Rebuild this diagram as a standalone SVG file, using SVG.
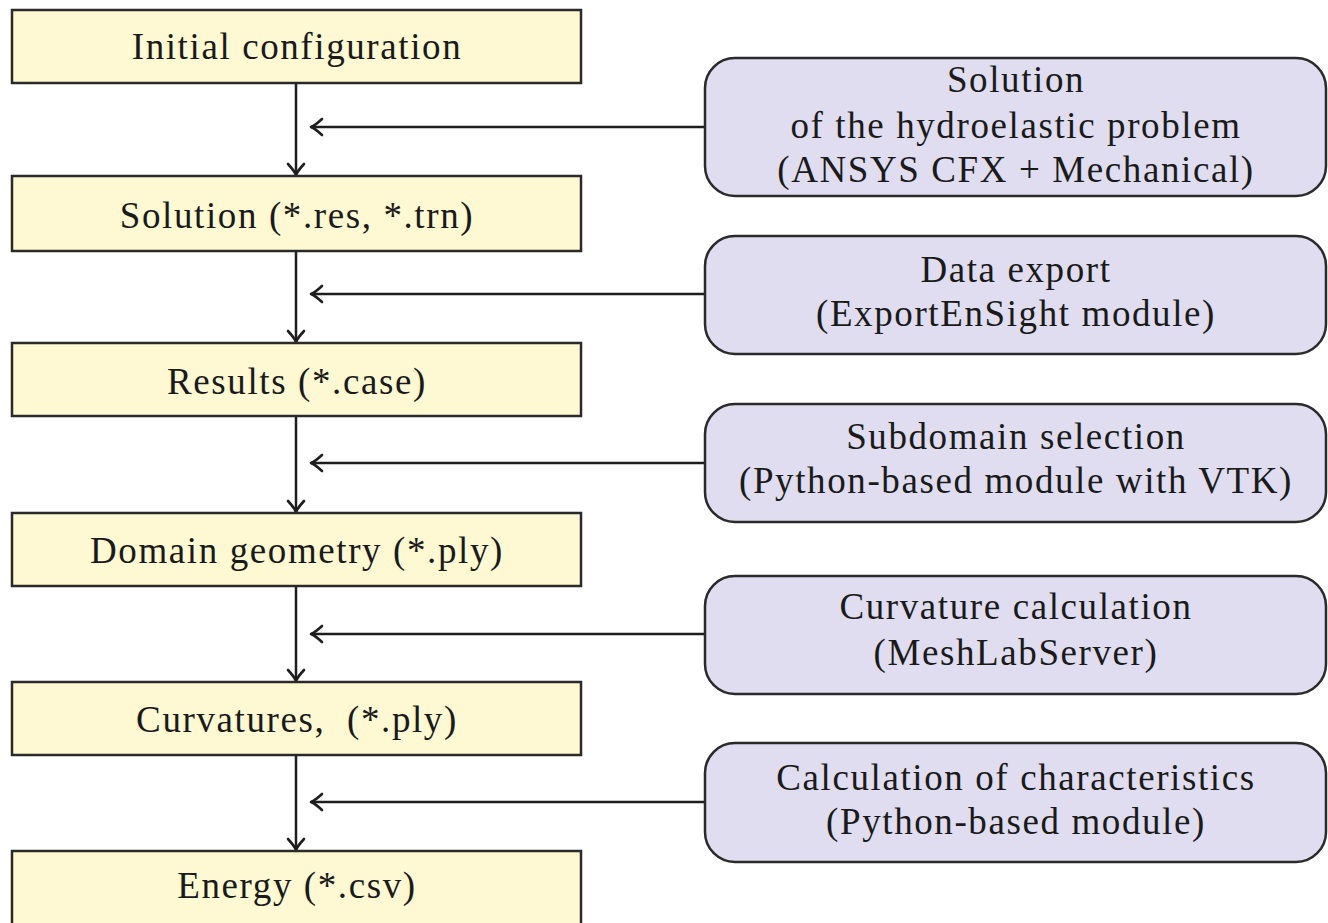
<svg xmlns="http://www.w3.org/2000/svg" width="1328" height="923" viewBox="0 0 1328 923">
<style>
  .step { fill: #fef9d2; stroke: #2a2a2a; stroke-width: 2.5; }
  .tool { fill: #dfddef; stroke: #2a2a2a; stroke-width: 2.5; }
  text { font-family: "Liberation Serif", "Times New Roman", serif; font-size: 37px; fill: #1a1a1a; text-anchor: middle; letter-spacing: 1.6px; white-space: pre; }
  .conn { stroke: #1e1e1e; stroke-width: 2.5; fill: none; }
</style>
<defs>
  <marker id="arr" viewBox="-14 -10 16 20" refX="0" refY="0" markerWidth="16" markerHeight="20" markerUnits="userSpaceOnUse" orient="auto" overflow="visible">
    <path d="M -11 -8 Q -4 -1.5 0 0 Q -4 1.5 -11 8" fill="none" stroke="#1e1e1e" stroke-width="2.6" stroke-linecap="round" stroke-linejoin="round"/>
  </marker>
</defs>
<rect width="1328" height="923" fill="#ffffff"/>

<g id="connectors">
  <line class="conn" x1="296" y1="83" x2="296" y2="175" marker-end="url(#arr)"/>
  <line class="conn" x1="296" y1="251" x2="296" y2="342" marker-end="url(#arr)"/>
  <line class="conn" x1="296" y1="416" x2="296" y2="512" marker-end="url(#arr)"/>
  <line class="conn" x1="296" y1="586" x2="296" y2="681" marker-end="url(#arr)"/>
  <line class="conn" x1="296" y1="755" x2="296" y2="850" marker-end="url(#arr)"/>
  <line class="conn" x1="705" y1="127" x2="311" y2="127" marker-end="url(#arr)"/>
  <line class="conn" x1="705" y1="294" x2="311" y2="294" marker-end="url(#arr)"/>
  <line class="conn" x1="705" y1="463" x2="311" y2="463" marker-end="url(#arr)"/>
  <line class="conn" x1="705" y1="634" x2="311" y2="634" marker-end="url(#arr)"/>
  <line class="conn" x1="705" y1="802" x2="311" y2="802" marker-end="url(#arr)"/>
</g>

<g id="initial">
  <rect class="step" x="12" y="10" width="569" height="73"/>
  <text x="297" y="59">Initial configuration</text>
</g>
<g id="solution">
  <rect class="step" x="12" y="176" width="569" height="75"/>
  <text x="297" y="228">Solution (*.res, *.trn)</text>
</g>
<g id="results">
  <rect class="step" x="12" y="343" width="569" height="73"/>
  <text x="297" y="394">Results (*.case)</text>
</g>
<g id="domain">
  <rect class="step" x="12" y="513" width="569" height="73"/>
  <text x="297" y="563">Domain geometry (*.ply)</text>
</g>
<g id="curvatures">
  <rect class="step" x="12" y="682" width="569" height="73"/>
  <text x="297" y="732">Curvatures,  (*.ply)</text>
</g>
<g id="energy">
  <rect class="step" x="12" y="851" width="569" height="76"/>
  <text x="297" y="898">Energy (*.csv)</text>
</g>

<g id="hydro">
  <rect class="tool" x="705" y="58" width="621" height="138" rx="30" ry="30"/>
  <text x="1016" y="92">Solution</text>
  <text x="1016" y="138">of the hydroelastic problem</text>
  <text x="1016" y="182">(ANSYS CFX + Mechanical)</text>
</g>
<g id="export">
  <rect class="tool" x="705" y="236" width="621" height="118" rx="30" ry="30"/>
  <text x="1016" y="282">Data export</text>
  <text x="1016" y="326">(ExportEnSight module)</text>
</g>
<g id="subdomain">
  <rect class="tool" x="705" y="404" width="621" height="118" rx="30" ry="30"/>
  <text x="1016" y="449">Subdomain selection</text>
  <text x="1016" y="493">(Python-based module with VTK)</text>
</g>
<g id="curvcalc">
  <rect class="tool" x="705" y="576" width="621" height="118" rx="30" ry="30"/>
  <text x="1016" y="619">Curvature calculation</text>
  <text x="1016" y="665">(MeshLabServer)</text>
</g>
<g id="characteristics">
  <rect class="tool" x="705" y="743" width="621" height="119" rx="30" ry="30"/>
  <text x="1016" y="790">Calculation of characteristics</text>
  <text x="1016" y="834">(Python-based module)</text>
</g>
</svg>
